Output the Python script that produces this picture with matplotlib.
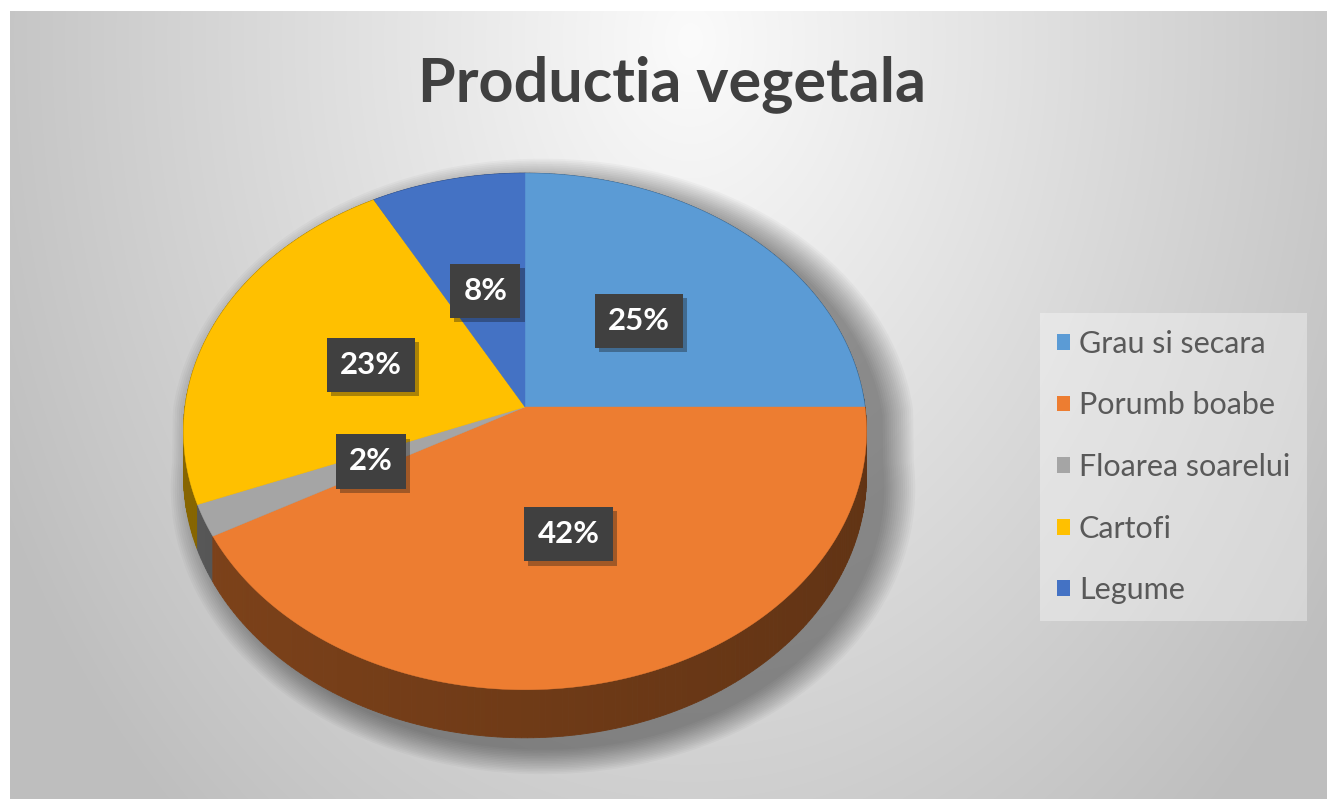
import numpy as np
import matplotlib
matplotlib.use("Agg")
import matplotlib.pyplot as plt
from matplotlib.patches import Polygon, Patch
import matplotlib.patheffects as pe
from matplotlib.colors import to_rgb

# data
categories = ["Grau si secara", "Porumb boabe", "Floarea soarelui", "Cartofi", "Legume"]
values = [25, 42, 2, 23, 8]
colors = ["#5B9BD5", "#ED7D31", "#A5A5A5", "#FFC000", "#4472C4"]
title = "Productia vegetala"

W, H = 1327, 799
# pie layout in pixel space (3D pie, perspective)
CX, CY = 525, 407
RX, RY = 340, 256
K = 0.0946
DEPTH = 43.5


def project(X, Y, bottom=0.0):
    w = 1 + K * Y
    return CX + RX * X / w, CY - RY * Y / w + DEPTH * bottom / w


fig = plt.figure(figsize=(W / 100, H / 100), dpi=100)
ax = fig.add_axes([0, 0, 1, 1])
ax.set_xlim(0, W)
ax.set_ylim(H, 0)
ax.axis("off")

# background radial gradient
yy, xx = np.mgrid[11:H, 10:W]
d = np.sqrt(((xx - 690) / 740.0) ** 2 + ((yy - 40) / 1000.0) ** 2)
g = np.clip(251 - 58 * d, 190, 251) / 255.0
ax.imshow(np.dstack([g, g, g]), extent=[10, W, H, 11], zorder=0, aspect="auto")

# angles (clockwise from 12 o'clock)
total = float(sum(values))
edges = np.concatenate([[0], np.cumsum(values)]) / total * 2 * np.pi

# shadow
t = np.linspace(0, 2 * np.pi, 400)
Xs, Ys = np.sin(t), np.cos(t)
top = np.array(project(Xs, Ys)).T
bot = np.array(project(Xs, Ys, 1.0)).T
sil = np.where((Ys > 0)[:, None], top, bot)
for i in range(16):
    s = 1.0 + 0.006 * i
    pts = (sil - [CX, CY + 60]) * s + [CX + 18, CY + 60 + 12]
    ax.add_patch(Polygon(pts, closed=True, fc="black", ec="none", alpha=0.028, zorder=1))

# side wall
quads = []
for i, v in enumerate(values):
    a = np.linspace(edges[i], edges[i + 1], max(int(v * 4), 4))
    for a0, a1 in zip(a[:-1], a[1:]):
        X0, Y0, X1, Y1 = np.sin(a0), np.cos(a0), np.sin(a1), np.cos(a1)
        p = [project(X0, Y0), project(X1, Y1), project(X1, Y1, 1.0), project(X0, Y0, 1.0)]
        f = 0.47 - 0.06 * (X0 + X1) / 2
        c = tuple(np.array(to_rgb(colors[i])) * f)
        quads.append(((Y0 + Y1) / 2, p, c))
for _, p, c in sorted(quads, key=lambda q: -q[0]):
    ax.add_patch(Polygon(p, closed=True, fc=c, ec=c, lw=0.6, zorder=2))

# top face
for i, v in enumerate(values):
    a = np.linspace(edges[i], edges[i + 1], max(int(v * 4), 4))
    arc = np.array(project(np.sin(a), np.cos(a))).T
    pts = np.vstack([[CX, CY], arc])
    ax.add_patch(Polygon(pts, closed=True, fc=colors[i], ec=colors[i], lw=0.3, zorder=3))

# data labels
for i, v in enumerate(values):
    m = (edges[i] + edges[i + 1]) / 2
    lx, ly = project(0.49 * np.sin(m), 0.49 * np.cos(m))
    txt = ax.text(lx, ly, f"{v / total:.0%}", ha="center", va="center", fontsize=22.5,
                  family="Lato", weight="bold", color="white", zorder=5,
                  bbox=dict(boxstyle="square,pad=0.42", fc="#404040", ec="none"))
    txt.get_bbox_patch().set_path_effects([pe.withSimplePatchShadow(offset=(3, -3), alpha=0.35), pe.Normal()])

# title
ax.text(672, 84, title, ha="center", va="center", fontsize=44, family="Lato",
        weight="bold", color="#404040", zorder=5)

# legend
handles = [Patch(fc=c, ec="none") for c in colors]
leg = ax.legend(handles, categories, loc="upper left",
                bbox_to_anchor=(1040 / W, 1 - 313 / H), bbox_transform=fig.transFigure,
                borderaxespad=0,
                prop={"family": "Lato", "size": 22}, labelcolor="#595959",
                handlelength=0.42, handleheight=0.42, handletextpad=0.3,
                labelspacing=1.1, borderpad=0.55, frameon=True, fancybox=False)
leg.get_frame().set_facecolor("white")
leg.get_frame().set_alpha(0.35)
leg.get_frame().set_edgecolor("none")

fig.savefig("out.png", dpi=100)
